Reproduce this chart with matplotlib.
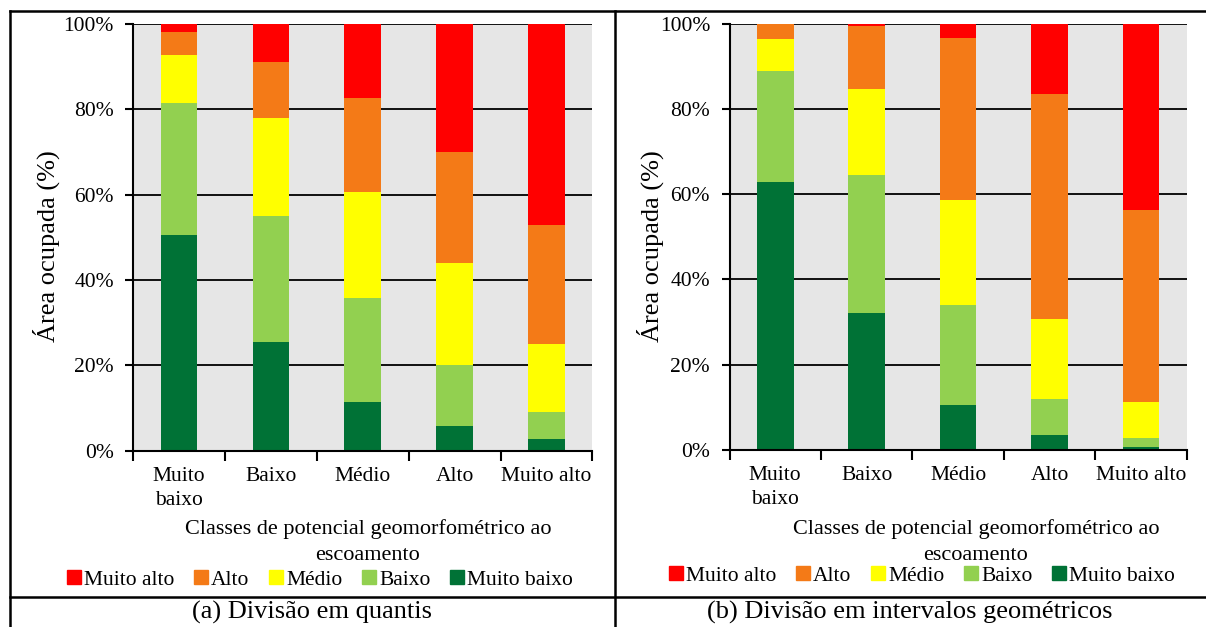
import matplotlib.pyplot as plt
import numpy as np
from matplotlib.lines import Line2D
from matplotlib.patches import Patch

classes = ["Muito\nbaixo", "Baixo", "Médio", "Alto", "Muito alto"]
series_names = ["Muito baixo", "Baixo", "Médio", "Alto", "Muito alto"]
colors = ["#007236", "#92D050", "#FFFF00", "#F47A17", "#FF0000"]

# percentages per class (rows = bar categories, cols = series from bottom up)
quantis_muito_baixo = [50.5, 25.4, 11.5, 5.9, 2.7]
quantis_baixo = [30.9, 29.7, 24.3, 14.2, 6.3]
quantis_medio = [11.3, 22.8, 24.9, 23.9, 16.1]
quantis_alto = [5.4, 13.2, 22.0, 26.0, 27.9]
quantis_muito_alto = [1.9, 8.9, 17.3, 30.0, 47.0]

geom_muito_baixo = [62.9, 32.2, 10.5, 3.4, 0.6]
geom_baixo = [26.1, 32.3, 23.4, 8.5, 2.1]
geom_medio = [7.5, 20.2, 24.8, 18.8, 8.5]
geom_alto = [3.5, 14.9, 38.0, 52.9, 45.1]
geom_muito_alto = [0.0, 0.4, 3.3, 16.4, 43.7]

quantis = [quantis_muito_baixo, quantis_baixo, quantis_medio,
           quantis_alto, quantis_muito_alto]
geom = [geom_muito_baixo, geom_baixo, geom_medio, geom_alto, geom_muito_alto]

SERIF = 'Liberation Serif'
plt.rcParams['font.family'] = [SERIF, 'DejaVu Serif']

W, H = 1206, 627
fig = plt.figure(figsize=(W / 100, H / 100), dpi=100)


def px(x0, y0, x1, y1):
    return [x0 / W, 1 - y1 / H, (x1 - x0) / W, (y1 - y0) / H]


def draw_panel(rect, data):
    ax = fig.add_axes(rect)
    ax.set_facecolor("#E6E6E6")
    x = np.arange(len(classes))
    bottom = np.zeros(len(classes))
    for vals, col, name in zip(data, colors, series_names):
        vals = np.array(vals)
        ax.bar(x, vals, 0.4, bottom=bottom, color=col, label=name, zorder=3)
        bottom += vals
    ax.set_xlim(-0.5, 4.5)
    ax.set_ylim(0, 100)
    ax.set_yticks(np.arange(0, 101, 20))
    ax.set_yticklabels([f"{v}%" for v in range(0, 101, 20)], fontsize=15.5,
                       family=SERIF)
    ax.set_xticks(np.arange(-0.5, 5, 1))
    ax.set_xticklabels([])
    ax.set_xticks(x, minor=True)
    ax.set_xticklabels(classes, minor=True, fontsize=15.5, linespacing=1.35,
                       family=SERIF)
    ax.tick_params(axis='x', which='major', length=7, width=1.5, direction='out')
    ax.tick_params(axis='x', which='minor', length=0, pad=12)
    ax.tick_params(axis='y', length=6, width=1.5, pad=8)
    ax.yaxis.grid(True, color='black', linewidth=1.3, zorder=1)
    ax.set_axisbelow(True)
    for s in ['top', 'right']:
        ax.spines[s].set_visible(False)
    for s in ['left', 'bottom']:
        ax.spines[s].set_linewidth(1.5)
        ax.spines[s].set_zorder(4)
    return ax


ax1 = draw_panel(px(133.2, 24, 592.4, 450.7), quantis)
ax2 = draw_panel(px(729.5, 24, 1186.8, 449.7), geom)

for xc in [46, 650]:
    fig.text(xc / W, 1 - 246 / H, "Área ocupada (%)", rotation=90,
             ha='center', va='center', fontsize=19, family=SERIF)

for xc in [368, 976]:
    fig.text(xc / W, 1 - 542 / H,
             "Classes de potencial geomorfométrico ao\nescoamento",
             ha='center', va='center', fontsize=16, linespacing=1.45,
             family=SERIF)

handles = [Patch(color=c) for c in colors[::-1]]
labels = series_names[::-1]
for xc, yc in [(320, 580), (922, 576)]:
    fig.legend(handles, labels, loc='center', bbox_to_anchor=(xc / W, 1 - yc / H),
               ncol=5, frameon=False, prop={'family': SERIF, 'size': 15.5},
               handlelength=0.65, handleheight=0.65, handletextpad=0.15,
               columnspacing=0.9, borderpad=0, borderaxespad=0)

fig.text(311.5 / W, 1 - 612 / H, "(a) Divisão em quantis",
         ha='center', va='center', fontsize=19, family=SERIF)
fig.text(910 / W, 1 - 612 / H, "(b) Divisão em intervalos geométricos",
         ha='center', va='center', fontsize=19, family=SERIF)

# table borders around the two panels
for x0, y0, x1, y1 in [(10, 11, 1206, 11), (10, 11, 10, 627),
                       (615, 11, 615, 627), (10, 597, 1206, 597)]:
    fig.add_artist(Line2D([x0 / W, x1 / W], [1 - y0 / H, 1 - y1 / H],
                          transform=fig.transFigure, color='black', linewidth=1.8))

fig.savefig("out.png", dpi=100)
